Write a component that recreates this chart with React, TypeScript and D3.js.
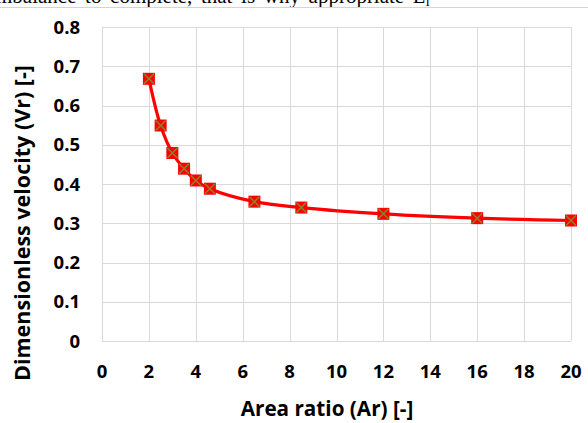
import React from 'react';
import * as d3 from 'd3';

// Values
const areaRatio = [2, 2.5, 3, 3.5, 4, 4.6, 6.5, 8.5, 12, 16, 20];
const velocity = [0.668, 0.549, 0.479, 0.439, 0.409, 0.388, 0.355, 0.34, 0.324, 0.313, 0.307];
const xTicks = [0, 2, 4, 6, 8, 10, 12, 14, 16, 18, 20];
const yTicks = [0, 0.1, 0.2, 0.3, 0.4, 0.5, 0.6, 0.7, 0.8];

const W = 588;
const H = 423;
const margin = { top: 27, right: 17, bottom: 82, left: 102 };
const font = '"Open Sans", sans-serif';

const App: React.FC = () => {
    const innerW = W - margin.left - margin.right;
    const innerH = H - margin.top - margin.bottom;

    const x = d3.scaleLinear().domain([0, 20]).range([0, innerW]);
    const y = d3.scaleLinear().domain([0, 0.8]).range([innerH, 0]);

    const points: [number, number][] = areaRatio.map((a, i) => [x(a), y(velocity[i])]);
    const line = d3.line().curve(d3.curveCatmullRom.alpha(0.5))(points) || '';

    const ms = 6; // half marker size

    return (
        <svg width={W} height={H} style={{ position: 'absolute', left: 0, top: 0, background: '#fff' }}>
            {/* cropped line of the surrounding document */}
            <text x={-4} y={2.5} fontFamily='"Liberation Serif", serif' fontSize={21} wordSpacing={3.4} fill="#000">
                mbalance to complete, that is why appropriate L<tspan fontSize={14} dy={3}>l</tspan>
            </text>
            <line x1={0} x2={W} y1={7.5} y2={7.5} stroke="#d4d4d4" strokeWidth={1} />

            <g transform={`translate(${margin.left},${margin.top})`}>
                {yTicks.map(t => (
                    <line key={'gy' + t} x1={0} x2={innerW} y1={Math.round(y(t)) + 0.5} y2={Math.round(y(t)) + 0.5}
                        stroke="#d9d9d9" strokeWidth={1} />
                ))}
                {xTicks.map(t => (
                    <line key={'gx' + t} x1={Math.round(x(t)) + 0.5} x2={Math.round(x(t)) + 0.5} y1={0} y2={innerH}
                        stroke="#d9d9d9" strokeWidth={1} />
                ))}

                <path d={line} fill="none" stroke="#ff0000" strokeWidth={3.2} />

                {points.map(([px, py], i) => (
                    <g key={'m' + i} transform={`translate(${px},${py})`}>
                        <rect x={-ms} y={-ms} width={ms * 2} height={ms * 2} fill="#ff0000" />
                        <path d={`M${-ms + 1},${-ms + 1}L${ms - 1},${ms - 1}M${-ms + 1},${ms - 1}L${ms - 1},${-ms + 1}`}
                            stroke="#7f8a2a" strokeWidth={1.4} />
                    </g>
                ))}

                {yTicks.map(t => (
                    <text key={'ty' + t} x={-22} y={y(t)} dy="0.36em" textAnchor="end"
                        fontFamily={font} fontWeight={700} fontSize={18.5} fill="#000">
                        {t === 0 ? '0' : t.toFixed(1)}
                    </text>
                ))}
                {xTicks.map(t => (
                    <text key={'tx' + t} x={x(t)} y={innerH + 37} textAnchor="middle"
                        fontFamily={font} fontWeight={700} fontSize={18.5} fill="#000">
                        {t}
                    </text>
                ))}
            </g>

            <text x={327} y={416} textAnchor="middle"
                fontFamily={font} fontWeight={700} fontSize={20.7} fill="#000">
                Area ratio (Ar) [-]
            </text>
            <text transform="translate(30,223) rotate(-90)" textAnchor="middle"
                fontFamily={font} fontWeight={700} fontSize={21.5} fill="#000">
                Dimensionless velocity (Vr) [-]
            </text>
        </svg>
    );
};

export default App;
